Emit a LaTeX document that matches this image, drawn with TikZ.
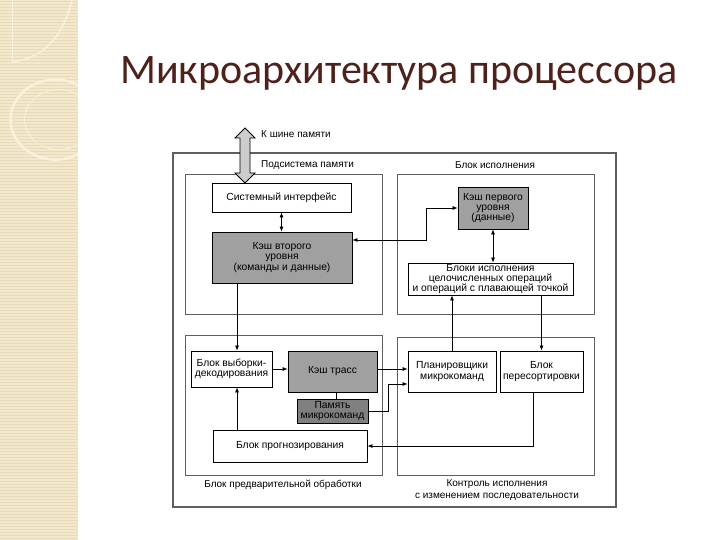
\documentclass[tikz,border=0pt]{standalone}
\usepackage{fontspec}
\setmainfont{Liberation Sans}
\newfontfamily\titlefont{Carlito}
\usetikzlibrary{arrows.meta}

\definecolor{stripbeige}{RGB}{243,232,204}
\definecolor{stripline}{RGB}{232,218,184}
\definecolor{stripcurve}{RGB}{248,241,222}
\definecolor{titlebrown}{RGB}{78,34,28}
\definecolor{cachegray}{RGB}{160,160,160}
\definecolor{ucodegray}{RGB}{128,128,128}
\definecolor{busgray}{RGB}{205,205,205}
\definecolor{framegray}{RGB}{95,95,95}

\tikzset{
  unit/.style={draw, line width=0.8pt, font=\fontsize{10.3}{10.3}\selectfont,
    align=center, inner sep=1pt},
  cache/.style={unit, fill=cachegray},
  region/.style={draw=framegray, line width=0.9pt, inner sep=0pt},
  lbl/.style={font=\fontsize{10}{12.5}\selectfont, inner sep=0pt, align=center},
  link/.style={line width=0.7pt, -{Latex[length=5pt,width=4pt]}},
  dlink/.style={line width=0.7pt, {Latex[length=5pt,width=4pt]}-{Latex[length=5pt,width=4pt]}},
}

\begin{document}
\begin{tikzpicture}[x=1pt, y=-1pt]
    \useasboundingbox (0,0) rectangle (720,540);
    % left strip of the slide
    \fill[stripbeige] (0,0) rectangle (78,540);
    \foreach \y in {1,4,...,540}
        \draw[stripline, line width=0.7pt] (0,\y) -- (78,\y);
    \draw[stripcurve, line width=1.5pt] (72,0) .. controls (62,40) and (42,58) .. (12,62);
    \draw[stripcurve, line width=1pt] (12,0) -- (12,62);
    \draw[stripcurve, line width=2.5pt] (78,85) arc (60:300:45 and -40);
    \draw[stripcurve, line width=0.8pt] (78,95) arc (55:305:34 and -30);

    % title
    \node[anchor=base west, inner sep=0pt, text=titlebrown,
          font=\titlefont\fontsize{42}{48}\selectfont] (title) at (120,84)
          {Микроархитектура процессора};

    % outer frame and regions
    \draw[framegray, line width=1.6pt] (173,153) rectangle (616,507);
    \node[region, minimum width=197, minimum height=140] (memsub) at (283.5,244) {};
    \node[region, minimum width=197, minimum height=140] (exec) at (495.5,244) {};
    \node[region, minimum width=197, minimum height=140] (frontend) at (283.5,405) {};
    \node[region, minimum width=197, minimum height=138] (ooo) at (495.5,406) {};

    \node[lbl, anchor=west] (buslbl) at (261,134) {К шине памяти};
    \node[lbl, anchor=west] (memlbl) at (261,165) {Подсистема памяти};
    \node[lbl] (execlbl) at (495,165) {Блок исполнения};
    \node[lbl] (frontlbl) at (283,485) {Блок предварительной обработки};
    \node[lbl] (ooolbl) at (497,490) {Контроль исполнения\\с изменением последовательности};

    % units
    \node[unit, minimum width=139, minimum height=29] (sysif) at (281.5,197.5) {Системный интерфейс};
    \node[cache, minimum width=140, minimum height=51] (l2) at (282,257.5) {Кэш второго\\уровня\\(команды и данные)};
    \node[cache, minimum width=70, minimum height=42] (l1) at (493,208) {Кэш первого\\уровня\\(данные)};
    \node[unit, minimum width=165, minimum height=32] (alu) at (490.5,279)
        {Блоки исполнения\\целочисленных операций\\и операций с плавающей точкой};
    \node[unit, minimum width=81, minimum height=36] (fetch) at (231.5,369) {Блок выборки-\\декодирования};
    \node[cache, minimum width=89, minimum height=41] (trace) at (332.5,371.5) {Кэш трасс};
    \node[unit, fill=ucodegray, minimum width=71, minimum height=24] (ucode) at (332.5,411) {Память\\микрокоманд};
    \node[unit, minimum width=154, minimum height=32] (bpu) at (290,446) {Блок прогнозирования};
    \node[unit, minimum width=88, minimum height=41] (sched) at (452,371.5) {Планировщики\\микрокоманд};
    \node[unit, minimum width=83, minimum height=41] (reorder) at (541.5,371.5) {Блок\\пересортировки};

    % memory bus
    \draw[fill=busgray, line width=0.8pt] (245,128) -- (255,138) -- (250,138) -- (250,173)
        -- (255,173) -- (245,183) -- (235,173) -- (240,173) -- (240,138) -- (235,138) -- cycle;

    % connectors
    \draw[dlink] (sysif.south) -- (sysif.south |- l2.north);
    \draw[dlink] (l2.east |- 0,240) -- (426,240) |- (l1.west);
    \draw[dlink] (l1.south) -- (l1.south |- alu.north);
    \draw[link] (sched.north) -- (sched.north |- alu.south);
    \draw[link] (alu.south -| reorder.north) -- (reorder.north);
    \draw[link] (l2.south -| 237,0) -- (fetch.north -| 237,0);
    \draw[link] (fetch.east) -- (fetch.east -| trace.west);
    \draw[link] (trace.east |- 0,369) -- (sched.west |- 0,369);
    \draw[link] (ucode.east) -- (388,411) |- (sched.west |- 0,384);
    \draw[line width=0.7pt] (trace.south -| 336,0) -- (ucode.north -| 336,0);
    \draw[link] (bpu.north -| 237,0) -- (fetch.south -| 237,0);
    \draw[link] (reorder.south -| 533,0) |- (bpu.east);
\end{tikzpicture}
\end{document}
